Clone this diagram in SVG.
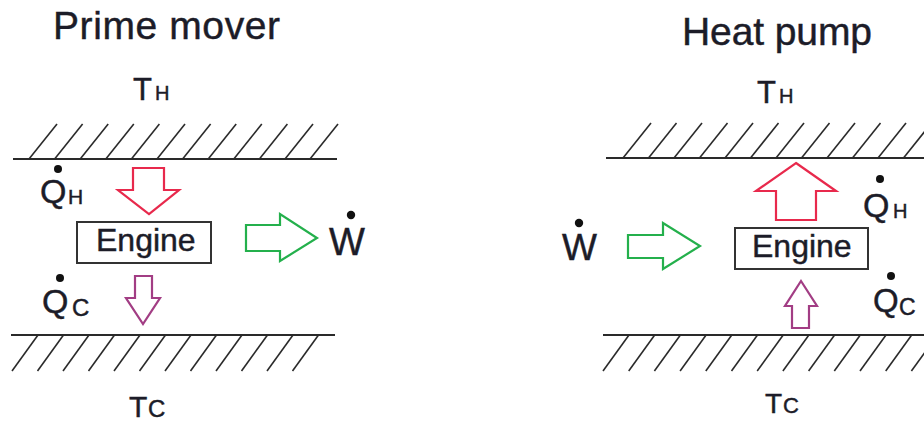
<svg xmlns="http://www.w3.org/2000/svg" width="924" height="423" viewBox="0 0 924 423">
<style>
text{font-family:"Liberation Sans",Arial,sans-serif;fill:#1c1c28;stroke:#1c1c28;stroke-width:0.45}
.wall{stroke:#2a2a2a;stroke-width:2.2;fill:none}
.hatch{stroke:#2a2a2a;stroke-width:1.6;fill:none}
.box{fill:#fff;stroke:#333;stroke-width:2}
.red{fill:#fff;stroke:#e8294c;stroke-width:2.2}
.green{fill:#fff;stroke:#24b04c;stroke-width:2.2}
.purple{fill:#fff;stroke:#a23d84;stroke-width:2.2}
.dot{fill:#111}
</style>
<defs>
<path id="hatchTop" class="hatch" d="M0,0 L28,-35"/>
<path id="hatchBot" class="hatch" d="M0,0 L26,-36"/>
</defs>
<rect width="924" height="423" fill="#fff"/>

<!-- Prime mover panel -->
<g id="title-prime-mover"><text x="53" y="39" font-size="39" textLength="227">Prime mover</text></g>
<g id="TH-left"><text x="133" y="100" font-size="31">T</text><text x="155" y="100" font-size="20">H</text></g>
<g id="hot-wall-left">
<line class="wall" x1="13" y1="159" x2="337" y2="159"/>
<use href="#hatchTop" x="29" y="159"/><use href="#hatchTop" x="54.6" y="159"/><use href="#hatchTop" x="80.2" y="159"/><use href="#hatchTop" x="105.8" y="159"/><use href="#hatchTop" x="131.4" y="159"/><use href="#hatchTop" x="157" y="159"/><use href="#hatchTop" x="182.6" y="159"/><use href="#hatchTop" x="208.2" y="159"/><use href="#hatchTop" x="233.8" y="159"/><use href="#hatchTop" x="259.4" y="159"/><use href="#hatchTop" x="285" y="159"/><use href="#hatchTop" x="310" y="159"/>
</g>
<g id="cold-wall-left">
<line class="wall" x1="11" y1="335" x2="335" y2="335"/>
<use href="#hatchBot" x="12" y="371"/><use href="#hatchBot" x="37.5" y="371"/><use href="#hatchBot" x="63" y="371"/><use href="#hatchBot" x="88.5" y="371"/><use href="#hatchBot" x="114" y="371"/><use href="#hatchBot" x="139.5" y="371"/><use href="#hatchBot" x="165" y="371"/><use href="#hatchBot" x="190.5" y="371"/><use href="#hatchBot" x="216" y="371"/><use href="#hatchBot" x="241.5" y="371"/><use href="#hatchBot" x="267" y="371"/><use href="#hatchBot" x="292.5" y="371"/>
</g>
<g id="TC-left"><text x="129" y="417" font-size="30">T</text><text x="148" y="417" font-size="24">C</text></g>
<g id="QH-left"><circle class="dot" cx="58" cy="169" r="4"/><text x="40" y="203" font-size="34">Q</text><text x="68" y="204" font-size="21">H</text></g>
<g id="QC-left"><circle class="dot" cx="60" cy="278" r="4"/><text x="42" y="313" font-size="34">Q</text><text x="72" y="316" font-size="24">C</text></g>
<g id="engine-left"><rect class="box" x="77" y="222" width="134" height="41"/><text x="96" y="251" font-size="32">Engine</text></g>
<g id="W-left"><circle class="dot" cx="351" cy="215" r="4.2"/><text x="329" y="255" font-size="38">W</text></g>

<!-- Heat pump panel -->
<g id="title-heat-pump"><text x="682" y="45" font-size="39" textLength="190">Heat pump</text></g>
<g id="TH-right"><text x="757" y="103" font-size="31">T</text><text x="779" y="103" font-size="20">H</text></g>
<g id="hot-wall-right">
<line class="wall" x1="606" y1="158" x2="924" y2="158"/>
<use href="#hatchTop" x="623" y="158"/><use href="#hatchTop" x="648.5" y="158"/><use href="#hatchTop" x="674" y="158"/><use href="#hatchTop" x="699.5" y="158"/><use href="#hatchTop" x="725" y="158"/><use href="#hatchTop" x="750.5" y="158"/><use href="#hatchTop" x="776" y="158"/><use href="#hatchTop" x="801.5" y="158"/><use href="#hatchTop" x="827" y="158"/><use href="#hatchTop" x="852.5" y="158"/><use href="#hatchTop" x="878" y="158"/><use href="#hatchTop" x="903.5" y="158"/>
</g>
<g id="cold-wall-right">
<line class="wall" x1="603" y1="335" x2="924" y2="335"/>
<use href="#hatchBot" x="603" y="371"/><use href="#hatchBot" x="628.7" y="371"/><use href="#hatchBot" x="654.4" y="371"/><use href="#hatchBot" x="680.1" y="371"/><use href="#hatchBot" x="705.8" y="371"/><use href="#hatchBot" x="731.5" y="371"/><use href="#hatchBot" x="757.2" y="371"/><use href="#hatchBot" x="782.9" y="371"/><use href="#hatchBot" x="808.6" y="371"/><use href="#hatchBot" x="834.3" y="371"/><use href="#hatchBot" x="860" y="371"/><use href="#hatchBot" x="885.7" y="371"/><use href="#hatchBot" x="911.4" y="371"/>
</g>
<g id="TC-right"><text x="765" y="413" font-size="28">T</text><text x="783" y="413" font-size="22">C</text></g>
<g id="QH-right"><circle class="dot" cx="880" cy="179" r="4"/><text x="863" y="217" font-size="34">Q</text><text x="893" y="218" font-size="20">H</text></g>
<g id="QC-right"><circle class="dot" cx="891" cy="276" r="4"/><text x="873" y="312" font-size="33">Q</text><text x="899" y="315" font-size="23">C</text></g>
<g id="engine-right"><rect class="box" x="735" y="228" width="133" height="41"/><text x="752" y="257" font-size="32">Engine</text></g>
<g id="W-right"><circle class="dot" cx="579" cy="223" r="4.2"/><text x="562" y="260" font-size="37">W</text></g>

<!-- connectors (block arrows) -->
<g id="connectors">
<polygon class="red" points="133,168 164,168 164,190 179,190 149,214 118,190 133,190"/>
<polygon class="green" points="246,225 280,225 280,214 317,238 280,261 280,251 246,251"/>
<polygon class="purple" points="135,276 152,276 152,298 160,298 143,324 126,298 135,298"/>
<polygon class="red" points="796,163 836,191 816,191 816,220 776,220 776,191 756,191"/>
<polygon class="green" points="628,235 663,235 663,223 700,246 663,269 663,258 628,258"/>
<polygon class="purple" points="801,281 817,306 809,306 809,328 792,328 792,306 785,306"/>
</g>
</svg>
